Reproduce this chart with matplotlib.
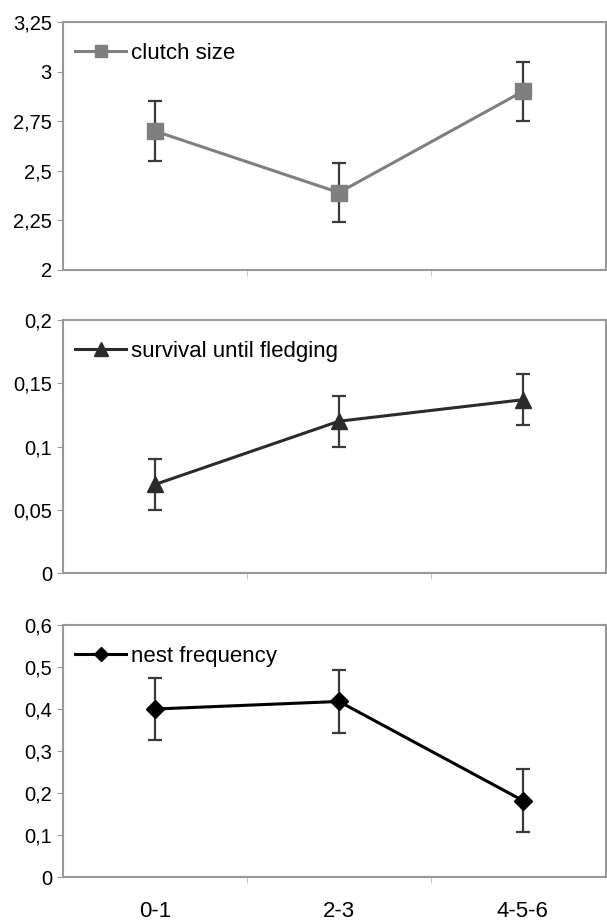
import matplotlib
matplotlib.use('Agg')
import matplotlib.pyplot as plt

plt.rcParams['font.family'] = ['Liberation Sans', 'DejaVu Sans']

groups = ['0-1', '2-3', '4-5-6']

clutch_size = [2.70, 2.39, 2.90]
clutch_err = [0.15, 0.15, 0.15]

survival = [0.07, 0.12, 0.137]
survival_err = [0.02, 0.02, 0.02]

nest_freq = [0.40, 0.418, 0.182]
nest_err = [0.074, 0.074, 0.075]

panels = [
    ('clutch size', clutch_size, clutch_err, 's', '#7f7f7f', 11,
     (2, 3.25), [2, 2.25, 2.5, 2.75, 3, 3.25], ['2', '2,25', '2,5', '2,75', '3', '3,25']),
    ('survival until fledging', survival, survival_err, '^', '#2b2b2b', 12,
     (0, 0.2), [0, 0.05, 0.1, 0.15, 0.2], ['0', '0,05', '0,1', '0,15', '0,2']),
    ('nest frequency', nest_freq, nest_err, 'D', '#000000', 9,
     (0, 0.6), [0, 0.1, 0.2, 0.3, 0.4, 0.5, 0.6], ['0', '0,1', '0,2', '0,3', '0,4', '0,5', '0,6']),
]

fig = plt.figure(figsize=(6.07, 9.22), dpi=100)
boxes = [(0.1038, 0.7072, 0.894, 0.2690),
         (0.1038, 0.3785, 0.894, 0.2744),
         (0.1038, 0.0488, 0.894, 0.2733)]

x = list(range(len(groups)))
for i, (name, vals, errs, mk, col, ms, ylim, yt, ytl) in enumerate(panels):
    ax = fig.add_axes(boxes[i])
    ax.errorbar(x, vals, yerr=errs, fmt='none', ecolor='#3a3a3a',
                elinewidth=1.6, capsize=5, capthick=1.6, zorder=2)
    ax.plot(x, vals, color=col, lw=2.2, marker=mk, ms=ms, mfc=col, mec=col,
            label=name, zorder=3)
    ax.set_xlim(-0.5, 2.45)
    ax.set_ylim(*ylim)
    ax.set_yticks(yt)
    ax.set_yticklabels(ytl, fontsize=14.5)
    ax.set_xticks(x)
    ax.set_xticks([0.5, 1.5], minor=True)
    if i == 2:
        ax.set_xticklabels(groups, fontsize=16)
    else:
        ax.set_xticklabels([])
    ax.tick_params(axis='x', which='major', length=0, pad=17)
    ax.tick_params(axis='x', which='minor', length=4, color='#bbbbbb', direction='out')
    ax.tick_params(axis='y', length=4, color='#999999', direction='out', pad=4)
    for s in ax.spines.values():
        s.set_color('#999999')
        s.set_linewidth(1.5)
    ax.legend(loc='upper left', bbox_to_anchor=(-0.002, 0.97), frameon=False,
              fontsize=16, handlelength=2.3, handletextpad=0.2,
              borderaxespad=0.2, markerscale=0.8)

fig.savefig('out.png', dpi=100)
